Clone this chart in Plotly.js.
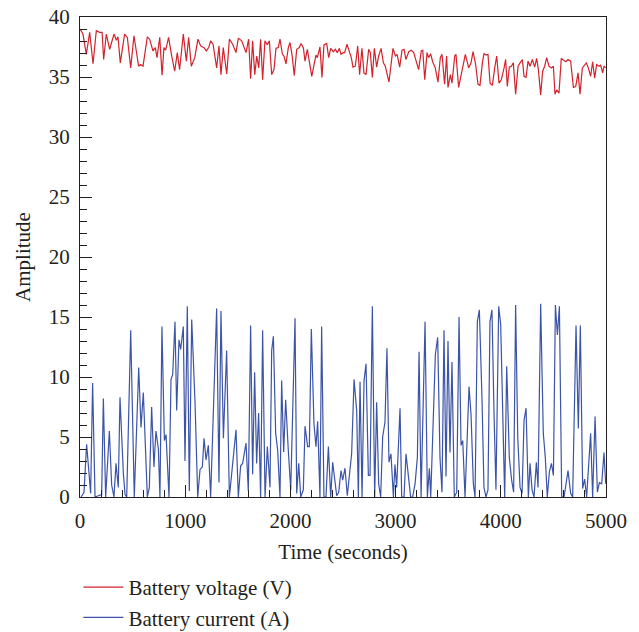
<!DOCTYPE html>
<html>
<head>
<meta charset="utf-8">
<script src="https://cdn.plot.ly/plotly-3.0.1.min.js"></script>
<style>html,body{margin:0;padding:0;background:#fff;}#chart{width:639px;height:632px;}</style>
</head>
<body>
<div id="chart"></div>
<script>
// Battery voltage (V) — time in seconds
const voltageTime = [
0,28,60,92,124,155,187,210,225,250,282,323,346,361,383,424,450,482,513,557,576,599,640,662,694,716,732,758,780,798,814,842,869,900,925,947,982,1011,1033,1058,1091,1121,1147,1179,1201,1223,1242,1265,
1284,1299,1321,1340,1362,1395,1420,1451,1483,1505,1537,1578,1603,1622,1641,1661,1680,1699,1717,1736,1758,1780,1800,1822,1844,1863,1885,1901,1924,1939,1958,1980,1996,2015,2037,2060,2085,2101,2123,2139,2161,2180,2203,2225,2243,2256,2281,2300,2319,2345,2364,2383,2408,2427,2446,2466,2481,2503,
2516,2538,2560,2579,2595,2617,2640,2658,2680,2699,2719,2744,2760,2779,2798,2820,2839,2862,2884,2902,2937,2975,2998,3014,3039,3061,3080,3098,3125,3150,3172,3194,3219,3244,3258,3277,3299,3314,3333,3352,3377,3403,3425,3441,3466,3485,3498,3521,3536,3562,3574,3599,3621,3640,3663,3695,3717,3736,
3761,3783,3802,3825,3840,3863,3878,3898,3920,3942,3961,3983,4005,4031,4046,4062,4081,4100,4119,4141,4164,4183,4205,4221,4240,4259,4278,4300,4322,4341,4357,4379,4398,4417,4436,4458,4481,4500,4515,4531,4553,4575,4595,4617,4639,4664,4690,4712,4734,4753,4775,4791,4813,4832,4854,4873,4892,4911,4934,4949,4969,4981,4997
];
const voltageValue = [
39.0,38.58,36.89,38.72,36.10,38.86,38.72,38.72,36.46,38.58,37.31,38.58,38.07,38.35,36.18,38.58,38.30,35.76,38.44,35.90,36.04,35.90,38.35,38.15,37.17,37.45,36.61,38.30,35.14,37.45,37.23,38.30,36.89,35.48,37.03,35.62,38.58,36.32,38.30,35.90,36.61,38.15,37.59,37.45,37.17,37.45,38.01,37.73,
36.61,35.76,37.59,35.20,37.45,35.25,38.15,37.73,37.03,38.24,38.01,37.03,38.15,34.86,38.01,35.20,36.75,35.76,38.15,34.77,38.01,37.68,38.01,35.20,35.62,37.39,37.45,38.15,36.89,36.75,36.10,37.45,37.87,36.89,35.14,37.31,37.45,37.79,37.45,36.32,37.31,36.32,35.06,36.04,36.83,36.61,37.51,34.97,37.68,37.79,36.61,37.39,37.11,37.31,37.03,37.39,36.89,37.03,
37.03,37.73,37.03,36.61,35.82,35.90,37.59,35.20,37.39,35.34,35.20,37.31,37.03,34.97,37.39,35.82,36.75,37.39,36.18,35.90,34.58,37.39,36.75,36.89,35.82,37.23,37.31,36.46,37.11,37.23,37.03,36.46,35.62,37.17,37.23,34.77,37.03,36.61,36.94,36.27,35.76,34.58,36.61,36.89,34.41,36.75,34.13,35.20,34.49,36.75,36.89,34.13,35.20,36.04,36.89,35.76,36.18,37.11,
36.04,34.41,34.30,36.18,36.94,36.83,36.89,34.49,34.30,35.76,36.75,34.49,34.77,35.76,36.46,34.21,35.82,35.90,36.18,33.56,35.90,36.18,36.46,35.06,34.97,36.32,35.90,36.46,35.82,36.55,35.62,33.51,35.48,35.90,36.61,35.90,35.76,35.90,33.56,33.93,33.65,36.55,36.38,36.27,36.46,36.32,34.13,34.21,35.34,33.56,35.76,35.90,36.18,35.76,35.06,36.27,34.91,36.04,35.90,35.98,35.34,35.90,35.76
];

// Battery current (A) — time in seconds
const currentTime = [
10,38,63,101,120,143,174,206,222,244,279,301,323,342,364,380,412,428,444,482,516,558,580,602,640,659,681,703,722,745,760,779,802,818,846,865,881,903,919,941,957,982,998,1020,1039,1062,1093,1119,1141,1163,1179,1198,1220,1242,1299,1321,1340,1363,1394,1420,1483,1505,1527,1546,1578,1600,1622,1641,1660,1679,1698,
1717,1736,1759,1781,1806,1822,1838,1860,1879,1901,1917,1936,1955,1980,2003,2044,2060,2079,2098,2123,2139,2164,2180,2199,2224,2243,2259,2281,2297,2319,2338,2361,2383,2402,2424,2440,2459,2481,2497,2519,2541,2567,2582,2605,2630,2646,2662,2681,2700,2719,2741,2757,2779,2801,2820,2839,2858,2877,2899,2918,2937,2956,2979,2994,3010,3042,3058,3080,3099,3121,3143,3162,3185,3207,3223,3242,3280,3302,3321,3334,3359,3378,3400,
3422,3441,3460,3479,3498,3517,3536,3558,3581,3603,3622,3638,3660,3698,3717,3739,3755,3777,3796,3821,3840,3859,3878,3897,3916,3935,3954,3980,3999,4037,4056,4081,4103,4122,4141,4161,4183,4202,4221,4240,4262,4278,4297,4316,4338,4354,4379,4404,4423,4442,4462,4481,4500,4519,4538,4557,4579,4601,4620,4639,4664,4683,4715,4737,4756,4778,4797,4816,4854,4873,4896,4918,4937,4959,4981,4997
];
const currentValue = [
0,0.4,4.4,0.3,9.5,0,0.1,0.2,8.2,0,5.5,1.0,0,2.8,0.8,8.3,2.0,0.2,0,13.9,0,10.8,5.8,8.7,0,0.8,7.5,2.5,5.5,4.0,0,14.2,4.7,5.2,0,9.8,10.2,14.6,7.2,13.1,12.3,14.2,3.0,15.9,0.5,14.8,8.0,0,2.3,2.5,4.9,3.1,4.3,0,15.7,1.2,15.5,4.9,12.2,0,5.6,0,2.6,2.8,4.5,0.5,14.3,1.9,10.4,2.8,7.0,
0,13.9,0,4.2,0.8,12.2,13.4,5.3,3.9,0,9.7,3.75,8.1,3.9,0.6,14.9,0.3,2.8,0,0.6,5.9,4.2,4.2,14.0,6.1,4.2,6.3,0,14.2,0,0,4.2,0,2.9,1.4,0.1,0.4,2.2,1.4,2.4,0.1,2.1,3.6,9.8,7.2,0,9.6,0,9.7,11.1,1.8,1.8,15.9,0,7.9,1.1,0,5.0,6.25,12.4,2.9,3.6,0,2.7,0.8,7.4,0,0,3.6,1.8,0,0,1.1,3.3,12.1,0,14.6,0,2.4,0,6.9,11.9,13.3,
3.3,0.4,13.9,1.7,13.0,3.7,11.25,0,0.4,15.0,4.3,4.7,0,9.2,6.9,1.1,0,14.6,15.6,8.3,0.8,0,0.6,14.6,15.6,7.2,0.6,15.9,14.4,0,10.9,3.3,1.4,0.4,16.0,5.0,0.8,0.3,6.4,7.4,0,2.8,0.6,0,2.9,0.8,16.1,5.3,3.3,0,2.1,2.8,1.8,16.0,13.5,15.9,0,0,1.25,2.2,0.3,0,14.3,5.7,14.3,0.7,1.5,0,5.3,0,6.7,0.4,1.2,1.1,3.7,1.1
];

const seriesNames = ["Battery voltage (V)", "Battery current (A)"];
const xTickVals = [0, 1000, 2000, 3000, 4000, 5000];
const yTickVals = [0, 5, 10, 15, 20, 25, 30, 35, 40];

const FONT = "'Liberation Serif', 'Times New Roman', serif";
const TXT = "#231f20";
const FS = 21;

const traces = [
  {x: voltageTime, y: voltageValue, type: "scatter", mode: "lines", name: seriesNames[0],
   line: {color: "#d3222c", width: 1.2}},
  {x: currentTime, y: currentValue, type: "scatter", mode: "lines", name: seriesNames[1],
   line: {color: "#3c54a8", width: 1.2}}
];

const axisCommon = {
  showgrid: false, zeroline: false, showline: true, linecolor: "#231f20", linewidth: 1,
  mirror: true, ticks: "inside", tickcolor: "#231f20", tickwidth: 1, automargin: false,
  tickfont: {family: FONT, size: FS, color: TXT}
};

const layout = {
  width: 639, height: 632,
  margin: {l: 80, r: 33, t: 17, b: 135},
  paper_bgcolor: "#ffffff", plot_bgcolor: "#ffffff",
  font: {family: FONT, size: FS, color: TXT},
  showlegend: true,
  legend: {xref: "paper", yref: "container", x: -0.003, xanchor: "left", y: 0.1030, yanchor: "top",
           orientation: "v", itemwidth: 40,
           bgcolor: "rgba(0,0,0,0)", font: {family: FONT, size: FS, color: TXT},
           tracegroupgap: 0},
  xaxis: Object.assign({}, axisCommon, {
    range: [0, 5000], tickmode: "array", tickvals: xTickVals, ticklen: 12, ticklabelstandoff: 5,
    minor: {dtick: 200, tick0: 0, ticks: "inside", ticklen: 7, tickcolor: "#231f20", tickwidth: 1, showgrid: false},
    title: {text: "Time (seconds)", font: {family: FONT, size: FS, color: TXT}, standoff: 12}
  }),
  yaxis: Object.assign({}, axisCommon, {
    range: [0, 40], tickmode: "array", tickvals: yTickVals, ticklen: 12, ticklabelstandoff: 5,
    minor: {dtick: 1, tick0: 0, ticks: "inside", ticklen: 7, tickcolor: "#231f20", tickwidth: 1, showgrid: false},
    title: {text: "Amplitude", font: {family: FONT, size: FS, color: TXT}, standoff: 12}
  })
};

Plotly.newPlot("chart", traces, layout, {displayModeBar: false, staticPlot: true});
</script>
</body>
</html>
